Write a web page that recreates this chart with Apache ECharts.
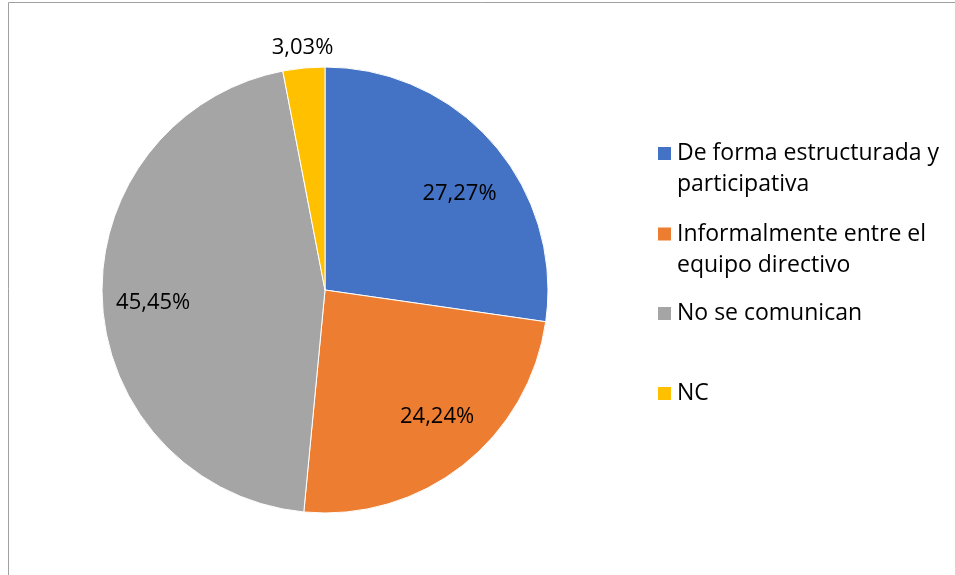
<!DOCTYPE html>
<html>
<head>
<meta charset="utf-8">
<script src="https://cdn.jsdelivr.net/npm/echarts@6/dist/echarts.min.js"></script>
<style>
  html, body { margin: 0; padding: 0; background: #fff; }
  #chart { width: 955px; height: 575px; }
</style>
</head>
<body>
<div id="chart"></div>
<script>
const categories = [
  "De forma estructurada y participativa",
  "Informalmente entre el equipo directivo",
  "No se comunican",
  "NC"
];
const values = [27.27, 24.24, 45.45, 3.03];
const colors = ["#4472C4", "#ED7D31", "#A5A5A5", "#FFC000"];
// legend text as it wraps in the picture
const legendLines = [
  ["De forma estructurada y", "participativa"],
  ["Informalmente entre el", "equipo directivo"],
  ["No se comunican"],
  ["NC"]
];

const fontFamily = "'Open Sans', 'Noto Sans', sans-serif";
const center = [325, 290];
const R = 223;
// small nudges so labels sit where the original put them
const labelNudge = [[6, 15], [7, -7], [-2, 5], [1, 4]];

const fmt = (p) => p.value.toFixed(2).replace(".", ",") + "%";

// one legend per entry; a blank first line keeps the square beside the first text line
const legendTops = [107, 187.5, 298, 378];
const legends = categories.map((name, i) => {
  const lines = legendLines[i];
  const text = lines.length > 1 ? "\u00a0\n" + lines.join("\n") : lines[0];
  return {
    data: [name],
    left: 656,
    top: legendTops[i],
    padding: 0,
    itemWidth: 15,
    itemHeight: 15,
    icon: "rect",
    selectedMode: false,
    formatter: () => text,
    textStyle: {
      fontFamily: fontFamily,
      fontSize: 23,
      lineHeight: 31,
      color: "#000"
    }
  };
});

const labelRing = (radius, show) => ({
  type: "pie",
  center: center,
  radius: radius,
  startAngle: 90,
  clockwise: true,
  silent: true,
  avoidLabelOverlap: false,
  itemStyle: { color: "rgba(0,0,0,0)" },
  label: {
    show: true,
    position: "inside",
    formatter: fmt,
    fontFamily: fontFamily,
    fontSize: 22,
    color: "#000"
  },
  labelLine: { show: false },
  emphasis: { disabled: true },
  data: categories.map((name, i) => ({
    name: name,
    value: values[i],
    label: { show: show(i), offset: labelNudge[i] }
  }))
});

const chart = echarts.init(document.getElementById("chart"));
chart.setOption({
  animation: false,
  backgroundColor: "#fff",
  legend: legends,
  graphic: [
    { type: "line", shape: { x1: 8.5, y1: 2.5, x2: 955, y2: 2.5 }, style: { stroke: "#A0A0A0", lineWidth: 1 } },
    { type: "line", shape: { x1: 8.5, y1: 2.5, x2: 8.5, y2: 575 }, style: { stroke: "#A0A0A0", lineWidth: 1 } }
  ],
  series: [
    {
      type: "pie",
      center: center,
      radius: R,
      startAngle: 90,
      clockwise: true,
      avoidLabelOverlap: false,
      itemStyle: { borderColor: "#fff", borderWidth: 1 },
      label: { show: false },
      labelLine: { show: false },
      emphasis: { disabled: true },
      data: categories.map((name, i) => ({
        name: name,
        value: values[i],
        itemStyle: { color: colors[i] }
      }))
    },
    // transparent ring that places the inner labels further out
    labelRing([111, R], (i) => i !== 3),
    // outer ring for the small slice label
    labelRing([233, 255], (i) => i === 3)
  ]
});
</script>
</body>
</html>
